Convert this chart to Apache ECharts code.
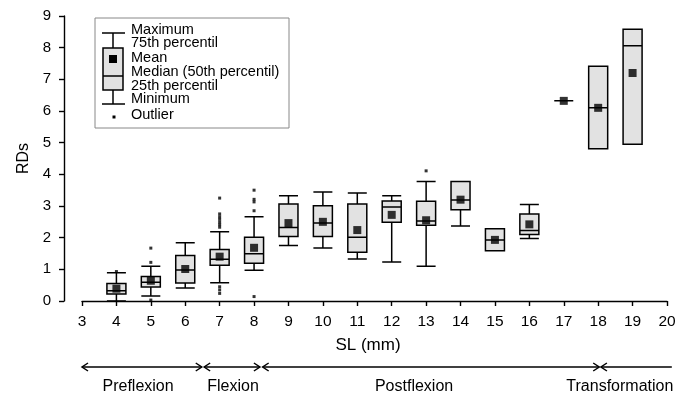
<!DOCTYPE html>
<html>
<head>
<meta charset="utf-8">
<script src="https://cdn.jsdelivr.net/npm/echarts@6/dist/echarts.min.js"></script>
<style>
html,body{margin:0;padding:0;background:#fff}
#main{width:692px;height:394px}
</style>
</head>
<body>
<div id="main"></div>
<script>
// size classes (SL, mm)
var sizes = [4, 5, 6, 7, 8, 9, 10, 11, 12, 13, 14, 15, 16, 17, 18, 19];
// [min, 25th, median, 75th, max]
var boxes = [
    [0.00, 0.22, 0.32, 0.55, 0.89],
    [0.16, 0.44, 0.59, 0.77, 1.10],
    [0.41, 0.57, 0.98, 1.44, 1.84],
    [0.58, 1.13, 1.32, 1.63, 2.19],
    [0.97, 1.19, 1.49, 2.01, 2.66],
    [1.75, 2.04, 2.32, 3.06, 3.32],
    [1.67, 2.04, 2.46, 3.01, 3.44],
    [1.33, 1.54, 2.01, 3.06, 3.41],
    [1.23, 2.49, 2.97, 3.16, 3.32],
    [1.10, 2.39, 2.53, 3.15, 3.77],
    [2.37, 2.88, 3.19, 3.77, 3.77],
    [1.59, 1.59, 1.93, 2.28, 2.28],
    [1.97, 2.10, 2.23, 2.75, 3.05],
    [6.32, 6.32, 6.32, 6.32, 6.32],
    [4.81, 4.81, 6.10, 7.41, 7.41],
    [4.95, 4.95, 8.06, 8.58, 8.58]
];
var means = [0.39, 0.64, 1.01, 1.40, 1.68, 2.46, 2.50, 2.24, 2.72, 2.55, 3.20, 1.93, 2.42, 6.32, 6.10, 7.20];
var outliers = [
    [4, 0.93],
    [5, 1.67], [5, 1.22], [5, 0.03],
    [7, 3.25], [7, 2.75], [7, 2.66], [7, 2.58], [7, 2.49], [7, 2.41], [7, 2.33], [7, 0.45], [7, 0.35], [7, 0.24],
    [8, 3.50], [8, 3.21], [8, 3.13], [8, 2.85], [8, 0.14],
    [13, 4.11]
];
// growth phases along SL
var phaseNames = ['Preflexion', 'Flexion', 'Postflexion', 'Transformation'];
var phaseFrom = [3.0, 6.55, 8.25, 18.08];
var phaseTo = [6.48, 8.17, 18.03, 20.14];
var phaseMid = [4.63, 7.39, 12.65, 18.63];

var font = '"Liberation Sans", Arial, sans-serif';
var chart = echarts.init(document.getElementById('main'));

var boxData = sizes.map(function (s, i) { return [s].concat(boxes[i]); });
var meanData = sizes.map(function (s, i) { return [s, means[i]]; });

var option = {
    animation: false,
    backgroundColor: '#fff',
    textStyle: { fontFamily: font, color: '#000' },
    grid: { left: 82, right: 25, top: 16, bottom: 93 },
    xAxis: {
        type: 'value', min: 3, max: 20, interval: 1, offset: 2,
        name: 'SL (mm)', nameLocation: 'middle', nameGap: 34,
        nameTextStyle: { fontSize: 17, color: '#000', padding: [0, 13, 0, 0] },
        axisLine: { lineStyle: { color: '#000', width: 1.4 } },
        axisTick: { length: 5, lineStyle: { color: '#000', width: 1.4 } },
        axisLabel: { fontSize: 15.5, color: '#000', margin: 11 },
        splitLine: { show: false }
    },
    yAxis: {
        type: 'value', min: 0, max: 9, interval: 1, offset: 18,
        name: 'RDs', nameLocation: 'middle', nameGap: 26, nameRotate: 90,
        nameTextStyle: { fontSize: 16, color: '#000' },
        axisLine: { show: true, lineStyle: { color: '#000', width: 1.4 } },
        axisTick: { show: true, length: 5, lineStyle: { color: '#000', width: 1.4 } },
        axisLabel: { fontSize: 15, color: '#000', margin: 13 },
        splitLine: { show: false }
    },
    series: [
        {
            type: 'boxplot',
            data: boxData,
            boxWidth: [19, 19],
            itemStyle: { color: '#e2e2e2', borderColor: '#000', borderWidth: 1.5 }
        },
        {
            type: 'scatter',
            data: meanData,
            symbol: 'rect', symbolSize: 8,
            itemStyle: { color: '#000' }, z: 5
        },
        {
            type: 'scatter',
            data: outliers,
            symbol: 'rect', symbolSize: 3,
            itemStyle: { color: '#000' }, z: 5
        }
    ]
};
chart.setOption(option);

// legend box (drawn by hand, like the original)
var g = [];
var ls = { stroke: '#000', lineWidth: 1.5 };
g.push({ type: 'rect', shape: { x: 95, y: 18, width: 194, height: 110 }, style: { fill: '#fff', stroke: '#888', lineWidth: 1 }, z: 10 });
g.push({ type: 'line', shape: { x1: 102, y1: 33, x2: 125, y2: 33 }, style: ls, z: 11 });
g.push({ type: 'line', shape: { x1: 113, y1: 33, x2: 113, y2: 48 }, style: ls, z: 11 });
g.push({ type: 'rect', shape: { x: 103, y: 48, width: 20, height: 42 }, style: { fill: '#e2e2e2', stroke: '#000', lineWidth: 1.5 }, z: 11 });
g.push({ type: 'line', shape: { x1: 103, y1: 76, x2: 123, y2: 76 }, style: ls, z: 12 });
g.push({ type: 'line', shape: { x1: 113, y1: 90, x2: 113, y2: 104 }, style: ls, z: 11 });
g.push({ type: 'line', shape: { x1: 102, y1: 104, x2: 125, y2: 104 }, style: ls, z: 11 });
g.push({ type: 'rect', shape: { x: 109, y: 55, width: 8, height: 8 }, style: { fill: '#000' }, z: 12 });
g.push({ type: 'rect', shape: { x: 112.5, y: 115.5, width: 3, height: 3 }, style: { fill: '#000' }, z: 12 });
var legendText = ['Maximum', '75th percentil', 'Mean', 'Median (50th percentil)', '25th percentil', 'Minimum', 'Outlier'];
var legendY = [30, 43, 58, 72, 86, 99, 115];
legendText.forEach(function (t, i) {
    g.push({ type: 'text', x: 131, y: legendY[i], z: 12,
        style: { text: t, font: '14.5px ' + font, fill: '#000', verticalAlign: 'middle', align: 'left' } });
});

// phase arrows under the axis
var ay = 367;
phaseNames.forEach(function (p, i) {
    var x1 = chart.convertToPixel({ gridIndex: 0 }, [phaseFrom[i], 0])[0];
    var x2 = chart.convertToPixel({ gridIndex: 0 }, [phaseTo[i], 0])[0];
    var xm = chart.convertToPixel({ gridIndex: 0 }, [phaseMid[i], 0])[0];
    g.push({ type: 'line', shape: { x1: x1, y1: ay, x2: x2, y2: ay }, style: ls });
    g.push({ type: 'polyline', shape: { points: [[x1 + 6, ay - 4], [x1, ay], [x1 + 6, ay + 4]] }, style: { stroke: '#000', lineWidth: 1.5, fill: null } });
    if (i < phaseNames.length - 1) {
        g.push({ type: 'polyline', shape: { points: [[x2 - 6, ay - 4], [x2, ay], [x2 - 6, ay + 4]] }, style: { stroke: '#000', lineWidth: 1.5, fill: null } });
    }
    g.push({ type: 'text', x: xm, y: 387, style: { text: p, font: '16px ' + font, fill: '#000', align: 'center', verticalAlign: 'middle' } });
});
chart.setOption({ graphic: g });
</script>
</body>
</html>
